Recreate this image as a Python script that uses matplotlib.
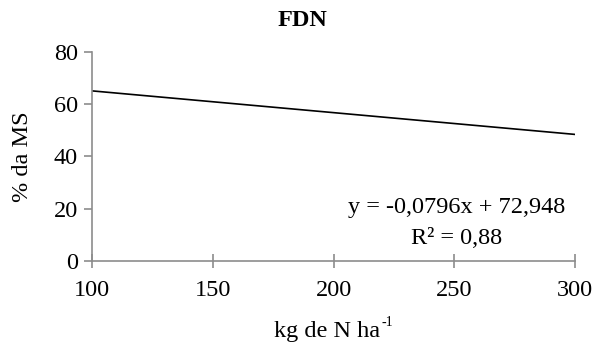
import matplotlib
matplotlib.use("Agg")
import matplotlib.pyplot as plt

x_vals = [100, 300]
y_vals = [65.1, 48.4]
x_ticks = [100, 150, 200, 250, 300]
y_ticks = [0, 20, 40, 60, 80]

plt.rcParams['font.family'] = ['Liberation Serif', 'DejaVu Serif']

W, H = 597, 347
fs = 17.5
fig = plt.figure(figsize=(W/100, H/100), dpi=100)
ax = fig.add_axes([92/W, 1 - 260.7/H, (575.3-92)/W, (260.7-52)/H])

ax.plot(x_vals, y_vals, color='black', lw=1.2)
ax.set_xlim(100, 300)
ax.set_ylim(0, 80)
ax.set_xticks(x_ticks)
ax.set_yticks(y_ticks)

gray = '#8c8c8c'
for s in ['top', 'right']:
    ax.spines[s].set_visible(False)
for s in ['left', 'bottom']:
    ax.spines[s].set_color(gray)
    ax.spines[s].set_linewidth(1.2)
ax.tick_params(axis='x', direction='inout', length=10, width=1.2, color=gray,
               labelsize=fs, pad=9)
ax.tick_params(axis='y', direction='out', length=6, width=1.2, color=gray,
               labelsize=fs, pad=4)

fig.text(302/W, 1 - 20/H, 'FDN', ha='center', va='center', fontsize=fs, fontweight='bold')
fig.text(23/W, 1 - 157/H, '% da MS', ha='center', va='center', rotation=90, fontsize=fs)
fig.text(380/W, 1 - 332/H, 'kg de N ha', ha='right', va='center', fontsize=fs)
fig.text(381/W, 1 - 323/H, '-1', ha='left', va='center', fontsize=10)

fig.text(457/W, 1 - 207/H, 'y = -0,0796x + 72,948', ha='center', va='center', fontsize=fs)
fig.text(457/W, 1 - 238/H, 'R² = 0,88', ha='center', va='center', fontsize=fs)

fig.savefig('out.png', dpi=100)
